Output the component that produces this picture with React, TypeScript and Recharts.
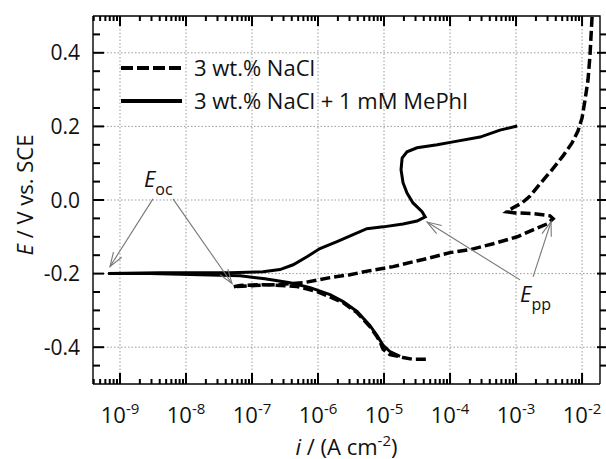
import {
  Label,
  Legend,
  Line,
  LineChart,
  ReferenceDot,
  ReferenceLine,
  XAxis,
  YAxis,
} from "recharts";

const FONT = '"Open Sans", sans-serif';

// axis ranges (current in A cm^-2, potential in V vs. SCE)
const X_DOMAIN: [number, number] = [3.9e-10, 1.87e-2];
const Y_DOMAIN: [number, number] = [-0.5, 0.5];
const DECADES = [1e-9, 1e-8, 1e-7, 1e-6, 1e-5, 1e-4, 1e-3, 1e-2];
const E_MAJOR = [-0.4, -0.2, 0, 0.2, 0.4];
const E_MINOR = [-0.45, -0.35, -0.3, -0.25, -0.15, -0.1, -0.05, 0.05, 0.1, 0.15, 0.25, 0.3, 0.35, 0.45];

// 3 wt.% NaCl (cathodic branch first, then anodic)
const NACL_I = [
  4.3e-5, 2.75e-5, 1.94e-5, 1.23e-5, 9.7e-6, 8.7e-6, 7.8e-6, 6.1e-6, 3.9e-6, 2.4e-6,
  1.52e-6, 9.7e-7, 4.8e-7, 1.47e-7, 6.6e-8, 5.2e-8,
  9.3e-8, 2.23e-7, 5.9e-7, 1.52e-6, 3.05e-6, 6.1e-6, 1.37e-5, 2.75e-5, 5.0e-5, 1.0e-4,
  2.0e-4, 4.5e-4, 1.04e-3, 1.81e-3, 2.95e-3, 3.64e-3, 3.27e-3, 1.81e-3, 9.7e-4, 7.3e-4,
  9.0e-4, 1.23e-3, 1.63e-3, 2.31e-3, 3.5e-3, 5.15e-3, 7.05e-3, 8.7e-3, 1.0e-2, 1.11e-2,
  1.23e-2, 1.32e-2, 1.37e-2, 1.42e-2,
];
const NACL_E = [
  -0.433, -0.433, -0.428, -0.42, -0.406, -0.385, -0.371, -0.344, -0.306, -0.279,
  -0.263, -0.249, -0.235, -0.23, -0.232, -0.236,
  -0.233, -0.23, -0.225, -0.211, -0.203, -0.192, -0.181, -0.168, -0.157, -0.143,
  -0.135, -0.119, -0.1, -0.081, -0.065, -0.051, -0.043, -0.037, -0.035, -0.032,
  -0.021, -0.008, 0.011, 0.044, 0.082, 0.12, 0.155, 0.188, 0.223, 0.272,
  0.326, 0.394, 0.448, 0.5,
];

// 3 wt.% NaCl + 1 mM MePhI
const MEPHI_I = [
  1.75e-5, 1.23e-5, 9.7e-6, 7.8e-6, 6.1e-6, 3.9e-6, 2.4e-6, 1.52e-6, 7.6e-7, 3.77e-7,
  1.57e-7, 6.6e-8, 1.63e-8, 2.85e-9, 6.6e-10,
  4.0e-9, 4.6e-8, 1.47e-7, 2.65e-7, 4.2e-7, 6.8e-7, 1.07e-6, 1.94e-6, 3.4e-6, 5.5e-6,
  9.7e-6, 1.94e-5, 3.16e-5, 4.2e-5, 3.77e-5, 2.75e-5, 2.23e-5, 1.94e-5, 1.81e-5, 1.88e-5,
  2.23e-5, 3.16e-5, 6.4e-5, 1.11e-4, 2.85e-4, 5.7e-4, 1.04e-3,
];
const MEPHI_E = [
  -0.425, -0.412, -0.395, -0.368, -0.341, -0.303, -0.276, -0.257, -0.238, -0.225,
  -0.214, -0.206, -0.203, -0.2, -0.2,
  -0.198, -0.198, -0.195, -0.189, -0.176, -0.154, -0.132, -0.113, -0.094, -0.078,
  -0.073, -0.065, -0.057, -0.046, -0.032, -0.008, 0.019, 0.047, 0.082, 0.114,
  0.131, 0.142, 0.15, 0.158, 0.171, 0.19, 0.201,
];

// annotation arrows: [tail, tip] as [i, E]
const EOC_ARROWS = [
  [[3.16e-9, 0.003], [7.05e-10, -0.181]],
  [[6.35e-9, 0.003], [4.98e-8, -0.227]],
];
const EPP_ARROWS = [
  [[1.15e-3, -0.217], [4.49e-5, -0.06]],
  [[1.81e-3, -0.209], [3.39e-3, -0.059]],
];
const EOC_LABEL = [2.31e-9, 0.036];
const EPP_LABEL = [1.15e-3, -0.276];

const SERIES = [
  { name: "3 wt.% NaCl", dash: "12 4" },
  { name: "3 wt.% NaCl + 1 mM MePhI", dash: undefined },
];

const naclData = NACL_I.map((i, k) => ({ i, E: NACL_E[k] }));
const mephiData = MEPHI_I.map((i, k) => ({ i, E: MEPHI_E[k] }));

// log minors 2..9 inside the domain
const X_MINOR: number[] = [];
for (let d = -10; d <= -2; d++) {
  for (let k = 2; k <= 9; k++) {
    const v = k * Math.pow(10, d);
    if (v >= X_DOMAIN[0] && v <= X_DOMAIN[1]) X_MINOR.push(v);
  }
}

const frameData = [
  { i: X_DOMAIN[0], E: Y_DOMAIN[1] },
  { i: X_DOMAIN[1], E: Y_DOMAIN[1] },
  { i: X_DOMAIN[1], E: Y_DOMAIN[0] },
];

const INK = "#000";
const GRID = "#9a9a9a";

// tick marks drawn from the reference line's own end points
const xTick = (bottomLen: number, topLen: number) => (p: any) => {
  const x = p.x1;
  const yb = Math.max(p.y1, p.y2);
  const yt = Math.min(p.y1, p.y2);
  return (
    <g>
      <line x1={x} x2={x} y1={yb} y2={yb - bottomLen} stroke={INK} strokeWidth={2} />
      <line x1={x} x2={x} y1={yt} y2={yt + topLen} stroke={INK} strokeWidth={2} />
    </g>
  );
};
const eTick = (leftLen: number, rightIn: number) => (p: any) => {
  const y = p.y1;
  const xl = Math.min(p.x1, p.x2);
  const xr = Math.max(p.x1, p.x2);
  return (
    <g>
      <line x1={xl} x2={xl + leftLen} y1={y} y2={y} stroke={INK} strokeWidth={2} />
      <line x1={xr - rightIn} x2={xr + 8} y1={y} y2={y} stroke={INK} strokeWidth={2} />
    </g>
  );
};
const xMajorTick = xTick(11, 10);
const xMinorTick = xTick(5, 5);
const eMajorTick = eTick(11, 3);
const eMinorTick = eTick(7, 0);

const DecadeLabel = (props: any) => {
  const x = Number(props.x);
  const y = Number(props.y);
  const exp = Math.round(Math.log10(props.payload.value));
  return (
    <text x={x} y={y + 39} textAnchor="middle" fontSize={22} fill="#111" fontFamily={FONT}>
      10
      <tspan dy={-9} fontSize={15}>
        {exp}
      </tspan>
    </text>
  );
};

const ELabel = (props: any) => (
  <text x={Number(props.x) - 13} y={Number(props.y)} dy="0.36em" textAnchor="end" fontSize={21} fill="#111" fontFamily={FONT}>
    {props.payload.value.toFixed(1)}
  </text>
);

const XTitle = (props: any) => {
  const vb = props.viewBox;
  return (
    <text x={vb.x + vb.width / 2} y={vb.y + 71} textAnchor="middle" fontSize={22} fill="#111" fontFamily={FONT}>
      <tspan fontStyle="italic">i</tspan> / (A cm
      <tspan dy={-9} fontSize={15}>
        -2
      </tspan>
      <tspan dy={9}>)</tspan>
    </text>
  );
};

const YTitle = (props: any) => {
  const vb = props.viewBox;
  const tx = 33;
  const ty = vb.y + vb.height / 2 - 5;
  return (
    <text
      x={tx}
      y={ty}
      transform={`rotate(-90 ${tx} ${ty})`}
      textAnchor="middle"
      fontSize={22}
      fill="#111"
      fontFamily={FONT}
    >
      <tspan fontStyle="italic">E</tspan> / V vs. SCE
    </text>
  );
};

const arrowShape = (p: any) => {
  const { x1, y1, x2, y2 } = p;
  const ang = Math.atan2(y2 - y1, x2 - x1);
  const L = 15;
  const A = 0.33;
  const ax = x2 - L * Math.cos(ang - A);
  const ay = y2 - L * Math.sin(ang - A);
  const bx = x2 - L * Math.cos(ang + A);
  const by = y2 - L * Math.sin(ang + A);
  return (
    <g>
      <line x1={x1} y1={y1} x2={x2} y2={y2} stroke="#777" strokeWidth={1.1} />
      <polyline points={`${ax},${ay} ${x2},${y2} ${bx},${by}`} fill="none" stroke="#777" strokeWidth={1.1} />
    </g>
  );
};

const subLabel = (main: string, sub: string) => (p: any) => (
  <text x={p.cx} y={p.cy} fontSize={22} fill="#111" fontFamily={FONT}>
    <tspan fontStyle="italic">{main}</tspan>
    <tspan dy={8} fontSize={16}>
      {sub}
    </tspan>
  </text>
);

const renderLegend = () => (
  <svg width={420} height={80} style={{ display: "block", overflow: "visible" }}>
    {SERIES.map((s, k) => (
      <g key={s.name}>
        <line x1={0} x2={61} y1={23 + 33 * k} y2={23 + 33 * k} stroke="#000" strokeWidth={4} strokeDasharray={s.dash} />
        <text x={73} y={23 + 33 * k} dy="0.36em" fontSize={22} fill="#111" fontFamily={FONT}>
          {s.name}
        </text>
      </g>
    ))}
  </svg>
);

const helper = {
  xAxisId: "b",
  yAxisId: "l",
  dataKey: "E",
  legendType: "none" as const,
  activeDot: false as const,
  isAnimationActive: false,
};

export default function App() {
  return (
    <div style={{ position: "absolute", left: 0, top: 0, background: "#fff" }}>
      <LineChart width={606} height={459} margin={{ top: 16, right: 6, bottom: 0, left: 0 }}>
        <XAxis
          xAxisId="b"
          type="number"
          dataKey="i"
          scale="log"
          domain={X_DOMAIN}
          ticks={DECADES}
          interval={0}
          tickSize={0}
          tickMargin={0}
          tickLine={false}
          axisLine={{ stroke: INK, strokeWidth: 1.4 }}
          tick={<DecadeLabel />}
          height={75}
          label={<Label content={XTitle} />}
        />
        <YAxis
          yAxisId="l"
          type="number"
          dataKey="E"
          domain={Y_DOMAIN}
          ticks={E_MAJOR}
          interval={0}
          tickSize={0}
          tickMargin={0}
          tickLine={false}
          axisLine={{ stroke: INK, strokeWidth: 1.4 }}
          tick={<ELabel />}
          width={93}
          label={<Label content={YTitle} />}
        />

        {/* dotted grid at decades and major potentials */}
        {DECADES.map((d) => (
          <Line
            key={`gx${d}`}
            {...helper}
            data={[
              { i: d, E: Y_DOMAIN[0] },
              { i: d, E: Y_DOMAIN[1] },
            ]}
            stroke={GRID}
            strokeWidth={1}
            strokeDasharray="1.5 2"
            dot={false}
          />
        ))}
        {E_MAJOR.map((e) => (
          <Line
            key={`gy${e}`}
            {...helper}
            data={[
              { i: X_DOMAIN[0], E: e },
              { i: X_DOMAIN[1], E: e },
            ]}
            stroke={GRID}
            strokeWidth={1}
            strokeDasharray="1.5 2"
            dot={false}
          />
        ))}

        {/* frame (top, right) */}
        <Line {...helper} data={frameData} stroke={INK} strokeWidth={1.4} dot={false} />

        {/* tick marks on all four sides */}
        {DECADES.map((v) => (
          <ReferenceLine key={`tx${v}`} xAxisId="b" yAxisId="l" x={v} ifOverflow="visible" shape={xMajorTick} />
        ))}
        {X_MINOR.map((v) => (
          <ReferenceLine key={`mx${v}`} xAxisId="b" yAxisId="l" x={v} ifOverflow="visible" shape={xMinorTick} />
        ))}
        {E_MAJOR.map((e) => (
          <ReferenceLine key={`te${e}`} xAxisId="b" yAxisId="l" y={e} ifOverflow="visible" shape={eMajorTick} />
        ))}
        {E_MINOR.map((e) => (
          <ReferenceLine key={`me${e}`} xAxisId="b" yAxisId="l" y={e} ifOverflow="visible" shape={eMinorTick} />
        ))}

        <Line
          {...helper}
          data={naclData}
          name={SERIES[0].name}
          legendType="line"
          type="linear"
          stroke="#000"
          strokeWidth={3.5}
          strokeDasharray="10 4"
          dot={false}
        />
        <Line
          {...helper}
          data={mephiData}
          name={SERIES[1].name}
          legendType="line"
          type="linear"
          stroke="#000"
          strokeWidth={3}
          dot={false}
        />

        {[...EOC_ARROWS, ...EPP_ARROWS].map((a, k) => (
          <ReferenceLine
            key={`ar${k}`}
            xAxisId="b"
            yAxisId="l"
            segment={[
              { x: a[0][0], y: a[0][1] },
              { x: a[1][0], y: a[1][1] },
            ]}
            shape={arrowShape}
          />
        ))}
        <ReferenceDot xAxisId="b" yAxisId="l" x={EOC_LABEL[0]} y={EOC_LABEL[1]} r={1} shape={subLabel("E", "oc")} />
        <ReferenceDot xAxisId="b" yAxisId="l" x={EPP_LABEL[0]} y={EPP_LABEL[1]} r={1} shape={subLabel("E", "pp")} />

        <Legend
          layout="horizontal"
          verticalAlign="middle"
          align="center"
          content={renderLegend}
          wrapperStyle={{ left: 121, top: 45, width: 420, height: 80 }}
        />
      </LineChart>
    </div>
  );
}
